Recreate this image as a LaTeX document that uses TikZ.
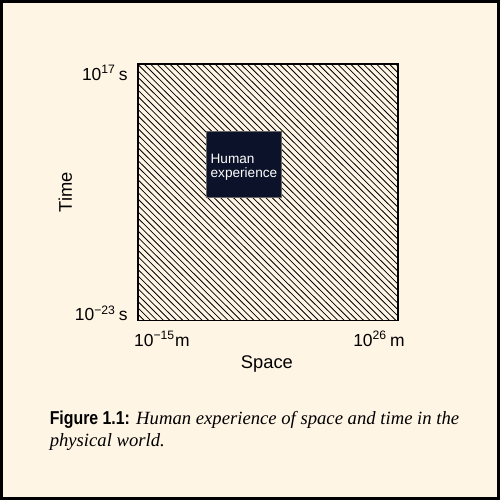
\documentclass[tikz,border=0pt]{standalone}
\usepackage{fontspec}
\setmainfont{Liberation Serif}
\setsansfont{Liberation Sans}
\newfontfamily\condsans[FakeStretch=0.85]{Liberation Sans}
\usetikzlibrary{positioning}

\definecolor{paper}{HTML}{FFF5E5}
\definecolor{navy}{HTML}{0C1229}

\begin{document}
\begin{tikzpicture}[
    x=0.02cm, y=-0.02cm,
    ticklabel/.style={font=\sffamily\fontsize{10}{12}\selectfont, inner sep=0pt},
    axistitle/.style={font=\sffamily\fontsize{10.5}{12}\selectfont, inner sep=0pt},
    hatchline/.style={line width=0.45pt},
    frame/.style={draw=black, line width=1.1pt},
    humanbox/.style={fill=navy, draw=black!60, line width=0.6pt},
  ]

  % page
  \fill[paper] (0,0) rectangle (500,500);
  \draw[line width=2pt] (0,0) rectangle (500,500);

  % region of the physical world
  \coordinate (tl) at (137,63);
  \coordinate (br) at (399,321);
  \begin{scope}
    \clip (tl) rectangle (br);
    \foreach \k in {-40,...,40}
      \draw[hatchline] (137+6.5*\k,63) -- ++(260,258);
  \end{scope}
  \draw[frame] (tl) rectangle (br);

  % human experience
  \draw[humanbox] (206,131) rectangle (282,197);
  \node[anchor=north west, align=left, text=white, inner sep=0pt,
        font=\sffamily\fontsize{7.8}{7.9}\selectfont] (human) at (210,153)
    {Human\\experience};

  % axis ends
  \node[ticklabel, anchor=base east] (tmax) at (127,79) {10\textsuperscript{17}\,s};
  \node[ticklabel, anchor=base east] (tmin) at (127,321) {10\textsuperscript{−23}\,s};
  \node[ticklabel, anchor=base west] (smin) at (133,347) {10\textsuperscript{−15}m};
  \node[ticklabel, anchor=base east] (smax) at (406,347) {10\textsuperscript{26}\,m};

  % axis titles
  \node[axistitle, rotate=90] (time) at (64,192) {Time};
  \node[axistitle, anchor=base] (space) at (267,369) {Space};

  % caption
  \node[anchor=base west, align=left, inner sep=0pt, font=\fontsize{10.7}{12.5}\selectfont]
    (caption) at (48,448)
    {{\condsans\bfseries Figure 1.1:} \textit{Human experience of space and time in the}\\
     \textit{physical world.}};
\end{tikzpicture}
\end{document}
